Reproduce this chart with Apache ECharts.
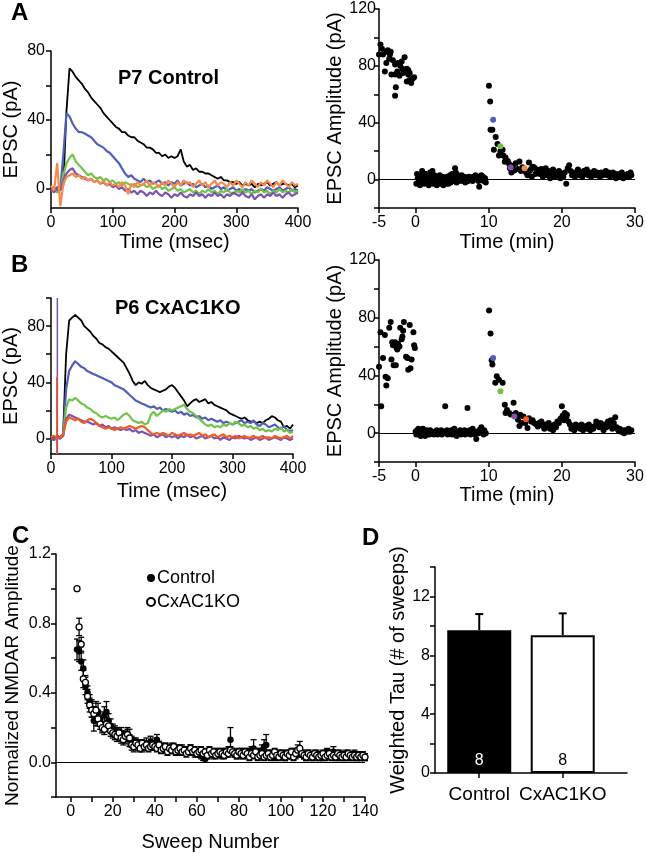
<!DOCTYPE html>
<html>
<head>
<meta charset="utf-8">
<script src="https://cdn.jsdelivr.net/npm/echarts@6/dist/echarts.min.js"></script>
<style>
  html, body { margin: 0; padding: 0; background: #fff; }
  #chart { width: 647px; height: 853px; }
</style>
</head>
<body>
<div id="chart"></div>
<script>
// sampling step of the traces (ms)
const stepMs = 5;

// Panel A, P7 Control traces (pA), one value every 5 ms from 0 to 400 ms
const aBlack = [0,1,-1,0,2,45,70,68,65,63, 61,58,56,53,51,49,47,44,42,40, 38,36,35,33,33,31,30,30,28,27,
  26,24,24,23,21,21,19,20,18,19, 18,19,23,16,13,14,11,12,10,10, 9,9,8,7,6,7,5,5,4,4,
  3,4,2,3,2,3,1,3,2,3, 4,2,3,4,2,3,3,2,3,1, 2];
const aBlue = [0,-1,1,0,20,44,42,38,35,33, 33,32,31,30,28,26,25,24,22,21, 19,17,15,12,9,7,8,6,5,4,
  6,4,5,3,4,5,3,4,2,4, 3,5,2,3,4,2,3,1,2,3, 1,2,0,1,2,0,1,-1,0,1,
  -1,0,-2,0,-1,0,-2,-1,0,-1, 1,0,-1,0,1,-1,0,1,-1,0, -1];
const aGreen = [-1,0,-2,0,8,15,18,20,16,14, 12,10,8,9,7,6,7,5,6,4, 5,3,4,2,4,3,2,3,1,2,
  3,1,2,0,1,2,0,1,-1,0, 1,-1,0,-2,-1,0,-2,-1,-3,-1, -2,0,-2,-1,-3,-1,-2,0,-2,-3,
  -1,-2,0,-2,-1,-3,-1,-2,0,-2, -1,-3,-1,-2,0,-2,-1,-2,0,-2, -1];
const aPurple = [0,-2,1,-1,5,9,11,12,9,8, 7,6,5,6,4,5,3,4,2,3, 1,2,0,1,-1,0,-2,-1,-3,-1,
  -2,-4,-2,-3,-1,-3,-4,-2,-3,-5, -3,-4,-2,-4,-5,-3,-4,-2,-4,-3, -5,-3,-4,-2,-4,-3,-5,-3,-4,-2,
  -3,-4,-2,-4,-5,-3,-6,-4,-3,-5, -3,-4,-2,-4,-3,-5,-3,-2,-4,-3, -2];
const aOrange = [2,-1,15,-10,3,7,8,9,7,8, 6,7,5,6,4,5,3,5,2,4, 2,3,1,4,2,-3,3,1,4,2,
  3,5,2,4,3,1,4,2,5,3, 1,4,2,5,3,4,1,3,5,2, 4,1,3,5,2,4,3,1,4,2,
  5,3,1,4,2,5,3,1,4,2, 5,3,1,4,2,5,3,1,4,2, 3];

// Panel B, P6 CxAC1KO traces (pA)
const bBlack = [1,0,2,1,3,60,84,86,88,86, 84,80,78,76,73,71,68,67,65,64, 62,60,58,56,54,50,46,41,38,40,
  39,41,38,36,35,34,33,34,35,37, 38,36,33,30,27,23,25,27,28,26, 27,28,25,26,24,23,22,21,20,18,
  17,16,15,14,15,13,12,12,11,12, 11,13,14,16,15,13,12,8,9,7, 10];
const bBlue = [0,-1,1,0,2,35,48,52,55,53, 51,50,48,47,46,45,44,43,42,41, 40,38,37,36,35,33,31,29,27,26,
  25,24,23,22,23,21,22,20,21,20, 19,20,18,19,17,18,16,17,15,16, 14,15,13,14,13,12,13,11,12,11,
  10,11,12,13,11,12,11,13,10,9, 11,10,8,9,10,8,7,9,6,5, 6];
const bGreen = [0,-1,1,0,2,22,28,27,29,27, 25,24,22,21,19,18,16,15,16,15, 14,15,13,15,17,18,16,13,12,11,
  12,10,11,17,19,16,18,20,19,21, 20,21,22,23,24,21,19,18,16,14, 12,10,9,10,8,9,8,10,9,11,
  10,12,11,9,10,8,9,7,8,6, 7,5,6,5,7,6,8,5,6,4, 5];
const bPurple = [0,-1,1,0,2,14,17,16,15,14, 13,12,12,11,10,11,9,10,8,9, 7,8,7,6,7,6,7,5,6,4,
  5,4,3,2,3,1,2,3,1,2, 1,2,0,2,1,3,1,2,0,1, 2,0,1,2,0,1,-1,1,0,-1,
  1,0,2,1,0,1,-1,0,1,-1, 0,1,-1,0,1,0,-1,1,0,-1, 0];
const bOrange = [1,2,0,1,3,12,15,14,13,14, 12,11,13,14,13,11,9,8,7,8, 7,6,7,8,7,8,9,8,7,8,
  9,8,6,4,3,4,3,4,3,2, 4,3,2,3,4,2,3,2,3,4, 2,3,1,2,3,1,2,3,1,2,
  1,2,0,1,2,0,1,2,0,1, 2,0,1,0,2,1,0,1,2,0, 2];
// stimulus artifacts in B [ms, pA]
const bArtPurple = [[10.5,-11],[10.5,100]];
const bArtOrange = [[9.5,-11],[9.5,44]];

// Panel A right: amplitude vs time [min, pA]
const aAmpPre = [[-4.8,95],[-5,88],[-4.45,88],[-4,90],[-3.8,91],[-3.4,90],[-4.2,76],[-4,82],[-3.5,88],[-3.1,84],
  [-2.8,81],[-3.3,74],[-2.8,74],[-2.7,65],[-2.8,59],[-2.4,82],[-2.1,80],[-1.9,83],[-1.7,75],[-1.5,86],
  [-1.2,78],[-1,77],[-1,74],[-0.8,75],[-1.2,69],[-0.6,68],[-0.4,71],[-0.2,72],[-2.2,73],[-1.8,78],
  [-2.5,76],[-0.8,70],[-4.6,92],[-3.6,85]];
const aAmpBase = [[0.1,-3],[0.2,4],[0.3,1],[0.4,-2],[0.5,2],[0.6,-4],[0.7,0],[0.8,3],[0.9,6],[1.0,-1],
  [1.1,2],[1.2,-3],[1.3,1],[1.4,4],[1.5,-2],[1.6,0],[1.7,3],[1.8,-4],[1.9,1],[2.0,5],[2.1,-1],[2.2,2],
  [2.3,6],[2.4,-3],[2.5,0],[2.6,3],[2.7,-2],[2.8,1],[2.9,-4],[3.0,2],[3.1,-1],[3.2,0],[3.3,3],[3.4,-3],
  [3.5,1],[3.6,-2],[3.7,2],[3.8,-4],[3.9,0],[4.0,-2],[4.1,1],[4.2,-3],[4.3,2],[4.4,-1],[4.5,-3],[4.6,0],
  [4.7,3],[4.8,-2],[4.9,1],[5.0,4],[5.1,-1],[5.2,2],[5.4,8],[5.5,5],[5.6,-2],[5.7,1],[5.8,3],[5.9,-1],
  [6.0,2],[6.2,0],[6.3,3],[6.4,-1],[6.5,1],[6.7,2],[6.8,-2],[6.9,0],[7.0,1],[7.2,-1],[7.3,2],[7.5,0],
  [7.6,1],[7.8,-1],[7.9,2],[8.0,1],[8.2,3],[8.3,0],[8.5,2],[8.6,-1],[8.7,-5],[8.8,1],[9.0,3],[9.1,0],
  [9.2,2],[9.3,-1],[9.5,1],[9.6,-2]];
const aAmpDecay = [[10.03,66],[10.2,55],[10.25,35],[10.5,35],[10.95,30],[10.7,21],[11.2,25],[11.9,21],[11.4,17],[12,17],
  [12.3,15.6],[12.6,13],[12.2,12.6],[12.8,11],[13.3,9.8],[13.5,6.3],[13.7,11.4],[14,7.4],[14.2,12.8],[14.6,8.6],
  [15.5,12],[15.1,5],[15.8,7.4],[16.2,8.6],[16.7,5],[17.2,7.4],[13.1,5],[14.4,6],[15.3,3],[15.6,6],
  [15.9,2],[16.0,9],[16.4,4],[16.6,7],[16.9,5],[11.6,20],[12.9,8]];
const aAmpTail = [[17.0,4],[17.4,2],[17.6,5],[17.8,8],[18.0,3],[18.2,6],[18.4,1],[18.6,4],[18.8,7],[19.0,2],
  [19.2,5],[19.4,3],[19.6,6],[19.8,1],[20.0,4],[20.2,2],[20.4,5],[20.6,-3],[20.8,8],[21.0,10],[21.2,6],
  [21.4,3],[21.6,5],[21.8,2],[22.0,4],[22.2,7],[22.4,3],[22.6,5],[22.8,2],[23.0,6],[23.2,4],[23.4,7],
  [23.6,3],[23.8,5],[24.0,2],[24.2,4],[24.4,6],[24.6,3],[24.8,5],[25.0,4],[25.2,2],[25.4,5],[25.6,3],
  [25.8,4],[26.0,6],[26.2,3],[26.4,5],[26.6,2],[26.8,4],[27.0,5],[27.2,3],[27.4,1],[27.6,4],[27.8,2],
  [28.0,3],[28.2,5],[28.4,1],[28.6,3],[28.8,2],[29.0,4],[29.2,2],[29.4,5],[29.5,3]];
const aAmpColored = [[10.6,42,'#5060b8'],[11.6,23.5,'#72c34a'],[13,8.5,'#7d55b0'],[14.9,8,'#f7894a']];

// Panel B right
const bAmpPre = [[-5,46],[-4.8,70],[-4.7,18.6],[-4.45,52],[-4.2,68],[-4.1,39],[-4,33],[-3.8,38],[-3.6,73],[-3.4,77],
  [-3.3,51],[-3.2,63],[-3,47],[-2.8,63],[-2.7,47],[-2.6,59],[-2.4,62],[-2.2,60],[-2.1,73],[-1.9,65],
  [-1.8,67],[-1.7,71],[-1.6,77],[-1.3,53],[-1.1,52],[-1,44],[-0.8,75],[-0.7,45],[-0.55,51],[-0.3,70],
  [-0.2,61],[-0.1,59],[-3.1,61],[-2.5,58]];
const bAmpBase = [[0.0,1],[0.1,-1],[0.2,2],[0.3,0],[0.4,3],[0.5,-1],[0.6,1],[0.7,-2],[0.8,2],[0.9,0],
  [1.0,3],[1.1,-1],[1.2,1],[1.3,-2],[1.4,0],[1.5,2],[1.6,-1],[1.7,1],[1.8,0],[1.9,-1],[2.0,2],[2.2,0],
  [2.3,1],[2.5,-1],[2.6,1],[2.8,0],[2.9,2],[3.0,-1],[3.2,1],[3.3,0],[3.5,2],[3.6,-1],[3.8,1],[4.05,18.6],
  [4.1,0],[4.3,2],[4.4,-1],[4.6,1],[4.7,0],[4.9,2],[5.0,-1],[5.2,1],[5.3,3],[5.5,0],[5.6,-2],[5.8,1],
  [5.9,0],[6.1,2],[6.2,-1],[6.4,1],[6.5,0],[6.7,2],[6.8,-1],[7.0,1],[7.1,17.4],[7.2,0],[7.4,2],[7.5,-1],
  [7.7,1],[7.8,3],[8.0,0],[8.1,-1],[8.3,-4],[8.4,1],[8.6,0],[8.7,2],[8.9,3],[9.0,4],[9.1,1],[9.3,-1],
  [9.4,2],[9.6,0]];
const bAmpDecay = [[10.05,85],[10.25,69],[10.4,50.6],[10.5,47.5],[10.9,35],[11.1,39.4],[11.4,37],[11.9,35],[12.2,19.7],[12.3,14],
  [12.8,14],[13.4,21],[13.7,14],[14,9.3],[14.3,12.8],[14.5,7],[14.75,11.6],[15.3,3.5],[15.5,10.4],[15.8,8],
  [16.2,7],[16.7,4.6],[17.2,8],[12.5,16],[13.0,13],[13.9,12],[14.2,5],[15.0,7],[16.0,9],[16.5,6],[16.9,7]];
const bAmpTail = [[17.4,5],[17.6,3],[17.8,6],[18.0,4],[18.2,7],[18.4,3],[18.6,5],[18.8,2],[19.0,6],[19.2,4],
  [19.4,8],[19.6,7],[19.8,10],[20.0,18.6],[20.1,12],[20.3,9],[20.4,14],[20.6,11],[20.7,12.8],[20.9,8],
  [21.1,6],[21.3,3],[21.5,5],[21.7,2],[21.9,6],[22.1,4],[22.3,5],[22.5,3],[22.7,6],[22.9,2],[23.1,4],
  [23.3,5],[23.5,3],[23.7,6],[23.9,2],[24.1,4],[24.3,3],[24.5,5],[24.7,8],[24.9,6],[25.1,4],[25.3,7],
  [25.5,5],[25.7,2],[25.9,6],[26.1,4],[26.3,8],[26.5,5],[26.7,9],[26.9,3],[27.1,7],[27.3,11],[27.5,4],
  [27.7,2],[27.9,3],[28.1,1],[28.3,2],[28.5,0],[28.7,2],[28.9,1],[29.1,3],[29.3,1],[29.5,2]];
const bAmpColored = [[10.6,52,'#5060b8'],[11.6,29,'#72c34a'],[13.5,11.6,'#7d55b0'],[15.1,9.7,'#f35b25']];

// Panel C: normalized NMDAR amplitude, sweeps 3..140
const firstSweep = 3;
const ctrlMean = [0.65,0.64,0.58,0.54,0.44,0.40,0.35,0.31,0.24,0.26,0.29,0.25,0.22,0.27,0.29,0.24,0.21,0.19,
  0.18,0.17,0.16,0.17,0.15,0.14,0.16,0.13,0.12,0.11,0.12,0.10,0.11,0.09,0.10,0.11,0.09,0.12,0.10,0.11,
  0.13,0.10,0.09,0.08,0.09,0.07,0.08,0.09,0.07,0.08,0.06,0.07,0.08,0.06,0.07,0.06,0.08,0.06,0.05,0.06,
  0.05,0.04,0.03,0.02,0.04,0.05,0.06,0.04,0.05,0.06,0.05,0.04,0.06,0.05,0.07,0.13,0.06,0.05,0.04,0.05,
  0.06,0.04,0.05,0.06,0.05,0.07,0.08,0.05,0.04,0.06,0.07,0.09,0.10,0.05,0.04,0.05,0.03,0.04,0.05,0.04,
  0.05,0.03,0.04,0.05,0.04,0.06,0.04,0.05,0.06,0.05,0.04,0.03,0.05,0.04,0.03,0.04,0.05,0.03,0.04,0.03,
  0.05,0.06,0.04,0.05,0.06,0.04,0.03,0.05,0.04,0.03,0.05,0.04,0.03,0.04,0.05,0.03,0.04,0.03,0.04,0.03];
const ctrlSem = [0.06,0.06,0.05,0.05,0.05,0.04,0.04,0.05,0.06,0.05,0.05,0.04,0.04,0.05,0.06,0.04,0.04,0.03,
  0.03,0.03,0.03,0.03,0.03,0.03,0.03,0.03,0.03,0.03,0.02,0.03,0.02,0.03,0.02,0.03,0.02,0.03,0.02,0.03,
  0.03,0.02,0.02,0.02,0.02,0.02,0.02,0.02,0.02,0.02,0.02,0.02,0.02,0.02,0.02,0.02,0.02,0.02,0.02,0.02,
  0.02,0.02,0.02,0.02,0.02,0.02,0.02,0.02,0.02,0.02,0.02,0.02,0.02,0.02,0.02,0.07,0.02,0.02,0.02,0.02,
  0.02,0.02,0.02,0.02,0.02,0.02,0.05,0.02,0.02,0.02,0.03,0.04,0.06,0.02,0.02,0.02,0.02,0.02,0.02,0.02,
  0.02,0.02,0.02,0.02,0.02,0.02,0.02,0.02,0.02,0.02,0.02,0.02,0.02,0.02,0.02,0.02,0.02,0.02,0.02,0.02,
  0.02,0.02,0.02,0.02,0.03,0.02,0.02,0.02,0.02,0.02,0.02,0.02,0.02,0.02,0.02,0.02,0.02,0.02,0.02,0.02];
const koMean = [1.00,0.78,0.68,0.48,0.46,0.38,0.33,0.30,0.28,0.30,0.25,0.22,0.20,0.19,0.22,0.21,0.18,0.17,
  0.16,0.15,0.17,0.14,0.13,0.15,0.16,0.14,0.10,0.09,0.11,0.10,0.08,0.11,0.09,0.10,0.08,0.09,0.10,0.09,
  0.08,0.10,0.07,0.08,0.09,0.06,0.08,0.07,0.09,0.06,0.07,0.08,0.06,0.07,0.05,0.06,0.08,0.06,0.07,0.05,
  0.06,0.07,0.05,0.06,0.04,0.07,0.05,0.06,0.04,0.05,0.06,0.05,0.04,0.06,0.05,0.07,0.06,0.05,0.04,0.06,
  0.05,0.04,0.06,0.05,0.03,0.05,0.04,0.06,0.03,0.04,0.05,0.03,0.04,0.05,0.03,0.04,0.06,0.04,0.03,0.05,
  0.04,0.03,0.05,0.04,0.06,0.03,0.05,0.07,0.08,0.05,0.04,0.03,0.05,0.04,0.03,0.05,0.04,0.03,0.04,0.05,
  0.03,0.04,0.05,0.03,0.04,0.03,0.05,0.04,0.03,0.04,0.03,0.05,0.04,0.03,0.04,0.03,0.04,0.03,0.04,0.03];
const koSem = [0,0.05,0.04,0.05,0.04,0.04,0.04,0.04,0.04,0.05,0.04,0.03,0.03,0.03,0.04,0.03,0.03,0.03,
  0.03,0.03,0.03,0.03,0.03,0.03,0.04,0.05,0.03,0.03,0.02,0.02,0.02,0.02,0.02,0.02,0.02,0.02,0.02,0.02,
  0.02,0.02,0.02,0.02,0.02,0.02,0.02,0.02,0.02,0.02,0.02,0.02,0.02,0.02,0.02,0.02,0.02,0.02,0.02,0.02,
  0.02,0.02,0.02,0.02,0.02,0.02,0.02,0.02,0.02,0.02,0.02,0.02,0.02,0.02,0.02,0.02,0.02,0.02,0.02,0.02,
  0.02,0.02,0.02,0.02,0.02,0.02,0.02,0.02,0.02,0.02,0.02,0.02,0.02,0.02,0.02,0.02,0.02,0.02,0.02,0.02,
  0.02,0.02,0.02,0.02,0.02,0.02,0.02,0.03,0.04,0.02,0.02,0.02,0.02,0.02,0.02,0.02,0.02,0.02,0.02,0.02,
  0.02,0.02,0.02,0.02,0.02,0.02,0.02,0.02,0.02,0.02,0.02,0.02,0.02,0.02,0.02,0.02,0.02,0.02,0.02,0.02];

// Panel D: weighted tau
const dCats = ['Control', 'CxAC1KO'];
const dMean = [9.7, 9.37];
const dSem = [1.1, 1.48];
const dN = [8, 8];

const FONT = 'Liberation Sans, Arial, Helvetica, sans-serif';

function trace(vals) {
    return vals.map(function (v, i) { return [i * stepMs, v]; });
}

function errData(mean, sem, start) {
    var out = [];
    mean.forEach(function (m, i) {
        if (sem[i] > 0) out.push([start + i, m - sem[i], m + sem[i]]);
    });
    return out;
}

function errRender(capW, width, lowCap) {
    return function (params, api) {
        var x = api.value(0);
        var lo = api.coord([x, api.value(1)]);
        var hi = api.coord([x, api.value(2)]);
        var st = { stroke: '#000', lineWidth: width };
        var kids = [
            { type: 'line', shape: { x1: lo[0], y1: lo[1], x2: hi[0], y2: hi[1] }, style: st },
            { type: 'line', shape: { x1: hi[0] - capW / 2, y1: hi[1], x2: hi[0] + capW / 2, y2: hi[1] }, style: st }
        ];
        if (lowCap) kids.push({ type: 'line', shape: { x1: lo[0] - capW / 2, y1: lo[1], x2: lo[0] + capW / 2, y2: lo[1] }, style: st });
        return { type: 'group', children: kids };
    };
}

var lineW = { color: '#000', width: 1.5 };

function xAx(grid, min, max, ticks, labels, name, gap, extra) {
    var a = {
        type: 'value', gridIndex: grid, min: min, max: max,
        name: name, nameLocation: 'middle', nameGap: gap,
        nameTextStyle: { color: '#000', fontSize: 20, fontFamily: FONT },
        axisLine: { show: true, onZero: false, lineStyle: lineW },
        axisTick: { show: true, length: 5, lineStyle: lineW, customValues: ticks },
        axisLabel: { color: '#000', fontSize: 16, fontFamily: FONT, margin: 7, customValues: labels },
        splitLine: { show: false }
    };
    return Object.assign(a, extra || {});
}

function yAx(grid, min, max, ticks, labels, name, gap, margin, fmt, nameSize) {
    return {
        type: 'value', gridIndex: grid, min: min, max: max,
        name: name, nameLocation: 'middle', nameGap: gap,
        nameTextStyle: { color: '#000', fontSize: nameSize || 20, fontFamily: FONT },
        axisLine: { show: true, onZero: false, lineStyle: lineW },
        axisTick: { show: true, length: 5, lineStyle: lineW, customValues: ticks },
        axisLabel: { color: '#000', fontSize: 16, fontFamily: FONT, margin: margin, customValues: labels, formatter: fmt },
        splitLine: { show: false }
    };
}

function lineS(x, y, data, color, w) {
    return { type: 'line', xAxisIndex: x, yAxisIndex: y, data: data, showSymbol: false, symbol: 'none',
        lineStyle: { color: color, width: w || 2.2 }, silent: true };
}

function dotS(x, y, data, zero) {
    var s = { type: 'scatter', xAxisIndex: x, yAxisIndex: y, data: data, symbolSize: 6,
        itemStyle: { color: '#000', opacity: 1 }, silent: true };
    if (zero) s.markLine = { silent: true, symbol: 'none', label: { show: false },
        lineStyle: { color: '#000', width: 1.2, type: 'solid' }, data: [{ yAxis: 0 }] };
    return s;
}

function coloredS(x, y, data) {
    return { type: 'scatter', xAxisIndex: x, yAxisIndex: y, symbolSize: 6, silent: true,
        data: data.map(function (d) { return { value: [d[0], d[1]], itemStyle: { color: d[2], opacity: 1 } }; }) };
}

var chart = echarts.init(document.getElementById('chart'));

var option = {
    animation: false,
    backgroundColor: '#fff',
    title: [
        { text: 'A', left: 11, top: 1, padding: 0, textStyle: { fontSize: 24, fontWeight: 'bold', fontFamily: FONT, color: '#000' } },
        { text: 'B', left: 11, top: 253, padding: 0, textStyle: { fontSize: 24, fontWeight: 'bold', fontFamily: FONT, color: '#000' } },
        { text: 'C', left: 12, top: 524, padding: 0, textStyle: { fontSize: 24, fontWeight: 'bold', fontFamily: FONT, color: '#000' } },
        { text: 'D', left: 362, top: 526, padding: 0, textStyle: { fontSize: 24, fontWeight: 'bold', fontFamily: FONT, color: '#000' } },
        { text: 'P7 Control', left: 118, top: 68, padding: 0, textStyle: { fontSize: 20, fontWeight: 'bold', fontFamily: FONT, color: '#000' } },
        { text: 'P6 CxAC1KO', left: 115, top: 298, padding: 0, textStyle: { fontSize: 20, fontWeight: 'bold', fontFamily: FONT, color: '#000' } }
    ],
    legend: {
        left: 141, top: 564, orient: 'vertical', itemGap: 6, itemWidth: 8, itemHeight: 8,
        textStyle: { color: '#000', fontSize: 18, fontFamily: FONT, padding: [0, 0, 0, -3] },
        data: [{ name: 'Control', icon: 'circle' }, { name: 'CxAC1KO', icon: 'circle' }]
    },
    grid: [
        { left: 49, top: 51, width: 249, height: 157 },
        { left: 379, top: 9, width: 256, height: 199 },
        { left: 47, top: 298, width: 246, height: 156 },
        { left: 379, top: 260, width: 256, height: 202 },
        { left: 56, top: 554, width: 309, height: 244 },
        { left: 435, top: 567, width: 192, height: 206 }
    ],
    xAxis: [
        xAx(0, 0, 400, [0, 100, 200, 300, 400], [0, 100, 200, 300, 400], 'Time (msec)', 24),
        xAx(1, -5, 30, [-5, 0, 10, 20, 30], [-5, 0, 10, 20, 30], 'Time (min)', 24),
        xAx(2, 0, 400, [0, 100, 200, 300, 400], [0, 100, 200, 300, 400], 'Time (msec)', 27),
        xAx(3, -5, 30, [-5, 0, 10, 20, 30], [-5, 0, 10, 20, 30], 'Time (min)', 22),
        xAx(4, -7, 140, [0, 10, 20, 30, 40, 50, 60, 70, 80, 90, 100, 110, 120, 130, 140],
            [0, 20, 40, 60, 80, 100, 120, 140], 'Sweep Number', 35),
        xAx(5, -0.53, 1.77, [0, 1], [0, 1], '', 0, {
            axisLabel: { color: '#000', fontSize: 19, fontFamily: FONT, margin: 12, customValues: [0, 1],
                formatter: function (v) { return dCats[Math.round(v)]; } }
        })
    ],
    yAxis: [
        yAx(0, -11, 80, [0, 20, 40, 60, 80], [0, 40, 80], 'EPSC (pA)', 30, 6),
        yAx(1, -20, 120, [-20, 0, 20, 40, 60, 80, 100, 120], [0, 40, 80, 120], 'EPSC Amplitude (pA)', 32, 3),
        yAx(2, -11, 100, [0, 20, 40, 60, 80, 100], [0, 40, 80], 'EPSC (pA)', 30, 6),
        yAx(3, -20, 120, [-20, 0, 20, 40, 60, 80, 100, 120], [0, 40, 80, 120], 'EPSC Amplitude (pA)', 32, 3),
        yAx(4, -0.2, 1.2, [-0.2, 0, 0.2, 0.4, 0.6, 0.8, 1.0, 1.2], [0, 0.4, 0.8, 1.2], 'Normalized NMDAR Amplitude', 34, 5,
            function (v) { return v.toFixed(1); }, 19),
        yAx(5, 0, 14, [0, 2, 4, 6, 8, 10, 12, 14], [0, 4, 8, 12], 'Weighted Tau (# of sweeps)', 23, 5)
    ],
    series: [
        // A traces
        lineS(0, 0, trace(aBlack), '#000000', 1.8),
        lineS(0, 0, trace(aBlue), '#5060b8'),
        lineS(0, 0, trace(aGreen), '#72c34a'),
        lineS(0, 0, trace(aPurple), '#7d55b0'),
        lineS(0, 0, trace(aOrange), '#f7894a'),
        // A amplitude
        dotS(1, 1, aAmpPre.concat(aAmpBase, aAmpDecay, aAmpTail), true),
        coloredS(1, 1, aAmpColored),
        // B traces
        lineS(2, 2, trace(bBlack), '#000000', 1.8),
        lineS(2, 2, trace(bBlue), '#5060b8'),
        lineS(2, 2, trace(bGreen), '#72c34a'),
        lineS(2, 2, trace(bPurple), '#7d55b0'),
        lineS(2, 2, trace(bOrange), '#f35b25'),
        lineS(2, 2, bArtPurple, '#7d55b0', 1.5),
        lineS(2, 2, bArtOrange, '#f35b25', 1.5),
        // B amplitude
        dotS(3, 3, bAmpPre.concat(bAmpBase, bAmpDecay, bAmpTail), true),
        coloredS(3, 3, bAmpColored),
        // C
        { type: 'custom', xAxisIndex: 4, yAxisIndex: 4, silent: true, renderItem: errRender(6, 1.3, true),
          encode: { x: 0, y: [1, 2] }, data: errData(ctrlMean, ctrlSem, firstSweep), z: 1 },
        { type: 'custom', xAxisIndex: 4, yAxisIndex: 4, silent: true, renderItem: errRender(6, 1.3, true),
          encode: { x: 0, y: [1, 2] }, data: errData(koMean, koSem, firstSweep), z: 1 },
        { name: 'Control', type: 'scatter', xAxisIndex: 4, yAxisIndex: 4, symbolSize: 6.5, silent: true,
          itemStyle: { color: '#000', opacity: 1 },
          data: ctrlMean.map(function (v, i) { return [firstSweep + i, v]; }),
          markLine: { silent: true, symbol: 'none', label: { show: false },
            lineStyle: { color: '#000', width: 1.2, type: 'solid' }, data: [{ yAxis: 0 }] } },
        { name: 'CxAC1KO', type: 'scatter', xAxisIndex: 4, yAxisIndex: 4, symbolSize: 6, silent: true,
          itemStyle: { color: '#fff', borderColor: '#000', borderWidth: 1.3, opacity: 1 },
          data: koMean.map(function (v, i) { return [firstSweep + i, v]; }) },
        // D
        { type: 'custom', xAxisIndex: 5, yAxisIndex: 5, silent: true, renderItem: errRender(8, 2, false),
          encode: { x: 0, y: [1, 2] }, data: dMean.map(function (m, i) { return [i, m, m + dSem[i]]; }) },
        { type: 'bar', xAxisIndex: 5, yAxisIndex: 5, barWidth: 64, silent: true,
          data: dMean.map(function (m, i) {
              return {
                  value: [i, m],
                  itemStyle: i === 0 ? { color: '#000', borderColor: '#000', borderWidth: 2 }
                                     : { color: '#fff', borderColor: '#000', borderWidth: 2 },
                  label: { show: true, position: 'insideBottom', distance: 4, formatter: String(dN[i]),
                           color: i === 0 ? '#fff' : '#000', fontSize: 16, fontFamily: FONT }
              };
          }) }
    ]
};

chart.setOption(option);
window.addEventListener('resize', function () { chart.resize(); });
</script>
</body>
</html>
